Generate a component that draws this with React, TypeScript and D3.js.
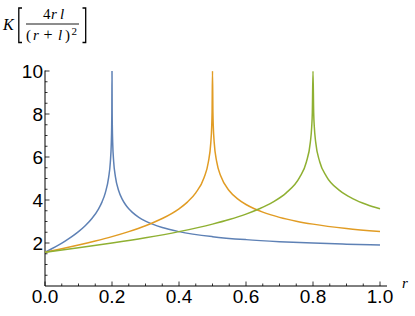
import React from 'react';
import * as d3 from 'd3';

// K[4 r l / (r + l)^2] for l = 0.2, 0.5, 0.8
const rBlue = [0, 0.02, 0.04, 0.06, 0.08, 0.1, 0.12, 0.14, 0.16, 0.17, 0.18, 0.19, 0.195, 0.198, 0.199, 0.1995, 0.2,
  0.2005, 0.201, 0.202, 0.205, 0.21, 0.22, 0.23, 0.24, 0.25, 0.26, 0.28, 0.3, 0.35, 0.4, 0.5, 0.6, 0.7, 0.8, 0.9, 1.0];
const kBlue = [1.571, 1.732, 1.904, 2.091, 2.296, 2.529, 2.801, 3.138, 3.592, 3.903, 4.333, 5.050, 5.756, 6.680, 7.375, 8.070, 10,
  8.072, 7.380, 6.690, 5.781, 5.100, 4.433, 4.053, 3.790, 3.592, 3.434, 3.193, 3.016, 2.718, 2.529, 2.296, 2.157, 2.063, 1.995, 1.944, 1.904];

const rOrange = [0, 0.05, 0.1, 0.15, 0.2, 0.25, 0.3, 0.35, 0.4, 0.425, 0.45, 0.475, 0.4875, 0.495, 0.4975, 0.49875, 0.5,
  0.50125, 0.5025, 0.505, 0.5125, 0.525, 0.55, 0.575, 0.6, 0.625, 0.65, 0.7, 0.75, 0.8, 0.9, 1.0];
const kOrange = [1.571, 1.732, 1.904, 2.091, 2.296, 2.529, 2.801, 3.138, 3.592, 3.903, 4.333, 5.050, 5.756, 6.680, 7.375, 8.070, 10,
  8.072, 7.380, 6.690, 5.781, 5.100, 4.433, 4.053, 3.790, 3.592, 3.434, 3.193, 3.016, 2.878, 2.674, 2.529];

const rGreen = [0, 0.1, 0.2, 0.3, 0.4, 0.5, 0.55, 0.6, 0.64, 0.68, 0.72, 0.76, 0.78, 0.792, 0.796, 0.798, 0.8,
  0.802, 0.804, 0.808, 0.82, 0.84, 0.88, 0.92, 0.96, 1.0];
const kGreen = [1.571, 1.774, 1.995, 2.242, 2.529, 2.878, 3.091, 3.344, 3.592, 3.903, 4.333, 5.050, 5.756, 6.680, 7.375, 8.070, 10,
  8.072, 7.380, 6.690, 5.781, 5.100, 4.433, 4.053, 3.790, 3.592];

const xTicks = [0, 0.2, 0.4, 0.6, 0.8, 1.0];
const yTicks = [2, 4, 6, 8, 10];

const series = [
  { r: rBlue, k: kBlue, color: '#5e81b5' },
  { r: rOrange, k: kOrange, color: '#e19c24' },
  { r: rGreen, k: kGreen, color: '#8fb032' },
];

const App = () => {
  const width = 415;
  const height = 316;
  const x = d3.scaleLinear().domain([0, 1]).range([45, 380]);
  const y = d3.scaleLinear().domain([0, 10]).range([286, 71]);

  const line = d3.line<[number, number]>()
    .x(d => x(d[0]))
    .y(d => y(d[1]))
    .curve(d3.curveMonotoneX);

  const xMinor = d3.range(0, 1.0001, 0.05);
  const yMinor = d3.range(0.5, 10.0001, 0.5);
  const font = "'Liberation Sans', Arial, sans-serif";
  const serif = "'Liberation Serif', 'Times New Roman', serif";

  return (
    <svg width={width} height={height} style={{ position: 'absolute', left: 0, top: 0 }}>
      <defs>
        <clipPath id="plot">
          <rect x={40} y={71} width={350} height={220} />
        </clipPath>
      </defs>

      {/* title: K[4rl/(r+l)^2] */}
      <g fontFamily={serif} fill="#000" fontSize={15}>
        <text x={3} y={29.5} fontSize={16} fontStyle="italic">K</text>
        <path d="M22,8 H18.8 V42.5 H22" fill="none" stroke="#000" strokeWidth={1.3} />
        <text x={43} y={18.5}>4</text>
        <text x={51} y={18.5} fontStyle="italic">r</text>
        <text x={60} y={18.5} fontStyle="italic">l</text>
        <line x1={26} x2={79} y1={24} y2={24} stroke="#000" strokeWidth={0.9} />
        <text x={26} y={40}>(</text>
        <text x={33} y={40} fontStyle="italic">r</text>
        <text x={43.5} y={40} fontSize={16}>+</text>
        <text x={58} y={40} fontStyle="italic">l</text>
        <text x={65} y={40}>)</text>
        <text x={71.5} y={35} fontSize={11}>2</text>
        <path d="M82.5,8 H85.7 V42.5 H82.5" fill="none" stroke="#000" strokeWidth={1.3} />
      </g>

      {/* axes */}
      <line x1={45} x2={387} y1={286} y2={286} stroke="#000" strokeWidth={1} />
      <line x1={45} x2={45} y1={286} y2={70.5} stroke="#000" strokeWidth={1} />
      {xMinor.map((t, i) => (
        <line key={'xm' + i} x1={x(t)} x2={x(t)} y1={286} y2={286 - (i % 4 === 0 ? 4.5 : 2.5)} stroke="#000" strokeWidth={0.8} />
      ))}
      {yMinor.map((t, i) => (
        <line key={'ym' + i} x1={45} x2={45 + ((i + 1) % 4 === 0 ? 4.5 : 2.5)} y1={y(t)} y2={y(t)} stroke="#000" strokeWidth={0.8} />
      ))}
      {xTicks.map(t => (
        <text key={'xl' + t} x={x(t)} y={303} fontSize={19} fontFamily={font} textAnchor="middle" fill="#000">{t.toFixed(1)}</text>
      ))}
      {yTicks.map(t => (
        <text key={'yl' + t} x={43} y={y(t) + 7} fontSize={19} fontFamily={font} textAnchor="end" fill="#000">{t}</text>
      ))}
      <text x={402} y={288} fontSize={15} fontFamily={serif} fontStyle="italic" fill="#000">r</text>

      {/* curves */}
      <g clipPath="url(#plot)">
        {series.map((s, i) => (
          <path key={i}
            d={line(s.r.map((r, j) => [r, s.k[j]] as [number, number])) || ''}
            fill="none" stroke={s.color} strokeWidth={1.5} />
        ))}
      </g>
    </svg>
  );
};

export default App;
